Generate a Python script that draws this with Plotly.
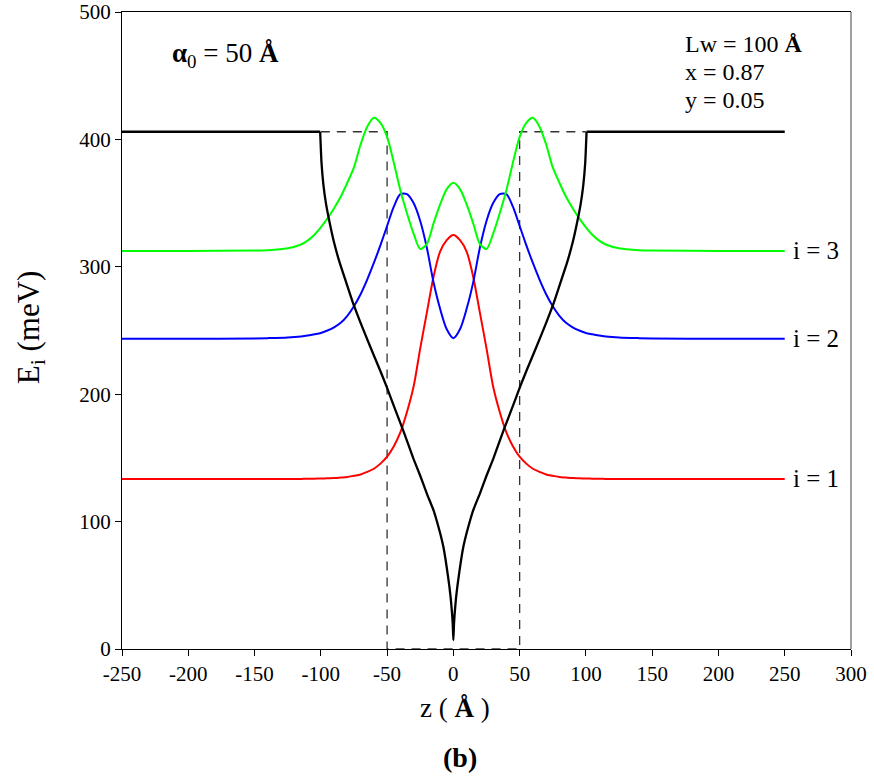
import plotly.graph_objects as go

# ---- data -------------------------------------------------------------
# confining potential: barrier plateaus and the graded well between them (meV)
z_barrier_left = [-250, -100.5]
z_barrier_right = [100.5, 250]
v_barrier = [406, 406]

z_well_pot = [-100.5, -99.5, -98, -96, -93, -90, -86, -80, -75.5, -70, -63, -55, -50,
              -45, -38, -30, -25, -20, -15, -12.5, -10, -7.5, -5, -3, -2, -1, -0.5, 0,
              0.5, 1, 2, 3, 5, 7.5, 10, 12.5, 15, 20, 25, 30, 38, 45, 50, 55, 63, 70, 75.5,
              80, 86, 90, 93, 96, 98, 99.5, 100.5]
v_well_pot = [406, 382, 364, 349, 333, 319, 304, 285, 271, 256, 238, 218, 205,
              191, 172, 149, 136, 122, 109, 100.5, 91, 80, 64, 49, 40, 28, 20, 7,
              20, 28, 40, 49, 64, 80, 91, 100.5, 109, 122, 136, 149, 172, 191, 205, 218, 238, 256, 271,
              285, 304, 319, 333, 349, 364, 382, 406]

# square-well reference outline (Lw = 100 Å)
z_well = [-100, -50, -50, 50, 50, 100]
v_well = [406, 406, 0, 0, 406, 406]

# probability-density curves drawn on their energy levels
z_wf = [-250, -200, -150, -140, -125, -115, -110, -105, -100, -95, -90, -85, -80, -75, -70,
        -65, -60, -55, -50, -45, -40, -35, -30, -25, -20, -15, -10, -5, 0,
        5, 10, 15, 20, 25, 30, 35, 40, 45, 50, 55, 60, 65, 70,
        75, 80, 85, 90, 95, 100, 105, 110, 115, 125, 140, 150, 200, 250]
e_1 = [133.5, 133.5, 133.5, 133.5, 133.5, 133.5, 133.6, 133.7, 133.8, 134, 134.2, 134.6, 135, 136, 137,
       139, 141.5, 145.5, 151, 159, 170, 186, 206, 236, 264, 292, 312, 321, 325,
       321, 312, 292, 264, 236, 206, 186, 170, 159, 151, 145.5, 141.5, 139, 137,
       136, 135, 134.6, 134.2, 134, 133.8, 133.7, 133.6, 133.5, 133.5, 133.5, 133.5, 133.5, 133.5]
e_2 = [243.5, 243.5, 243.8, 244, 244.5, 245.3, 246, 247, 248, 250, 252.5, 256, 261.5, 269, 278.5,
       290, 303, 317, 332, 347, 357, 357, 350, 336, 315, 288, 267, 251, 244,
       251, 267, 288, 315, 336, 350, 357, 357, 347, 332, 317, 303, 290, 278.5,
       269, 261.5, 256, 252.5, 250, 248, 247, 246, 245.3, 244.5, 244, 243.8, 243.5, 243.5]
e_3 = [312.5, 312.5, 312.7, 313, 314.5, 317.5, 320.5, 325, 331, 338, 346, 355, 366, 378, 396,
       410, 417, 413, 402, 382, 360, 342, 326, 314, 318, 334, 349, 361, 366,
       361, 349, 334, 318, 314, 326, 342, 360, 382, 402, 413, 417, 410, 396,
       378, 366, 355, 346, 338, 331, 325, 320.5, 317.5, 314.5, 313, 312.7, 312.5, 312.5]

level_names = ["i = 1", "i = 2", "i = 3"]
level_colors = ["#ff0000", "#0000ff", "#00ff00"]
level_energies = [133.5, 243.5, 312.5]

# sample parameters listed in the upper right corner
param_lines = ["Lw = 100 <b>Å</b>", "x = 0.87", "y = 0.05"]
param_y = [475, 453, 431]

x_ticks = [-250, -200, -150, -100, -50, 0, 50, 100, 150, 200, 250, 300]
y_ticks = [0, 100, 200, 300, 400, 500]

FONT = "'Liberation Serif', 'Times New Roman', Times, 'DejaVu Serif', serif"

fig = go.Figure()

fig.add_trace(go.Scatter(x=z_well, y=v_well, mode="lines",
                         line=dict(color="#333333", width=1.3, dash="9px,7px"),
                         showlegend=False, hoverinfo="skip"))

for e_vals, col in zip([e_1, e_2, e_3], level_colors):
    fig.add_trace(go.Scatter(x=z_wf, y=e_vals, mode="lines",
                             line=dict(color=col, width=2, shape="spline", smoothing=0.8),
                             showlegend=False))

# potential: straight plateaus, smoothed graded region
for zb in (z_barrier_left, z_barrier_right):
    fig.add_trace(go.Scatter(x=zb, y=v_barrier, mode="lines",
                             line=dict(color="black", width=2.3), showlegend=False))
fig.add_trace(go.Scatter(x=z_well_pot, y=v_well_pot, mode="lines",
                         line=dict(color="black", width=2.3, shape="spline", smoothing=0.4),
                         showlegend=False))

annotations = []
for name, e in zip(level_names, level_energies):
    annotations.append(dict(x=255, y=e, xref="x", yref="y", text=name, showarrow=False,
                            xanchor="left", yanchor="middle",
                            font=dict(family=FONT, size=25, color="black")))

for txt, yv in zip(param_lines, param_y):
    annotations.append(dict(x=173, y=yv, xref="x", yref="y", text=txt, showarrow=False,
                            xanchor="left", yanchor="middle",
                            font=dict(family=FONT, size=24, color="black")))

annotations += [
    dict(x=-214, y=466, xref="x", yref="y", text="<b>α</b><sub>0</sub> = 50 <b>Å</b>",
         showarrow=False, xanchor="left", yanchor="middle",
         font=dict(family=FONT, size=27, color="black")),
    dict(x=-0.125, y=0.505, xref="paper", yref="paper", text="E<sub>i</sub> (meV)",
         textangle=-90, showarrow=False, xanchor="center", yanchor="middle",
         font=dict(family=FONT, size=31, color="black")),
    dict(x=0.457, y=-0.093, xref="paper", yref="paper", text="z ( <b>Å</b> )",
         showarrow=False, xanchor="center", yanchor="middle",
         font=dict(family=FONT, size=27, color="black")),
    dict(x=0.463, y=-0.17, xref="paper", yref="paper", text="<b>(b)</b>",
         showarrow=False, xanchor="center", yanchor="middle",
         font=dict(family=FONT, size=28, color="black")),
]

fig.update_layout(
    width=874, height=780,
    margin=dict(l=122, r=23, t=12, b=131, autoexpand=False),
    paper_bgcolor="white", plot_bgcolor="white",
    font=dict(family=FONT, size=21, color="black"),
    annotations=annotations,
    shapes=[dict(type="line", xref="paper", yref="paper", x0=1, x1=1, y0=0, y1=1,
                 line=dict(color="#808080", width=1.5))],
)
fig.update_xaxes(range=[-250, 300], tickvals=x_ticks, ticktext=[str(v) for v in x_ticks],
                 showgrid=False, zeroline=False, showline=True, linecolor="black", linewidth=1.2,
                 mirror=True, ticks="outside", ticklen=6, tickcolor="black", automargin=False,
                 tickfont=dict(family=FONT, size=21, color="black"))
fig.update_yaxes(range=[0, 500], tickvals=y_ticks, showgrid=False, zeroline=False,
                 showline=True, linecolor="black", linewidth=1.2, automargin=False,
                 ticks="outside", ticklen=6, tickcolor="black",
                 tickfont=dict(family=FONT, size=21, color="black"))

fig.write_html("out.html")
